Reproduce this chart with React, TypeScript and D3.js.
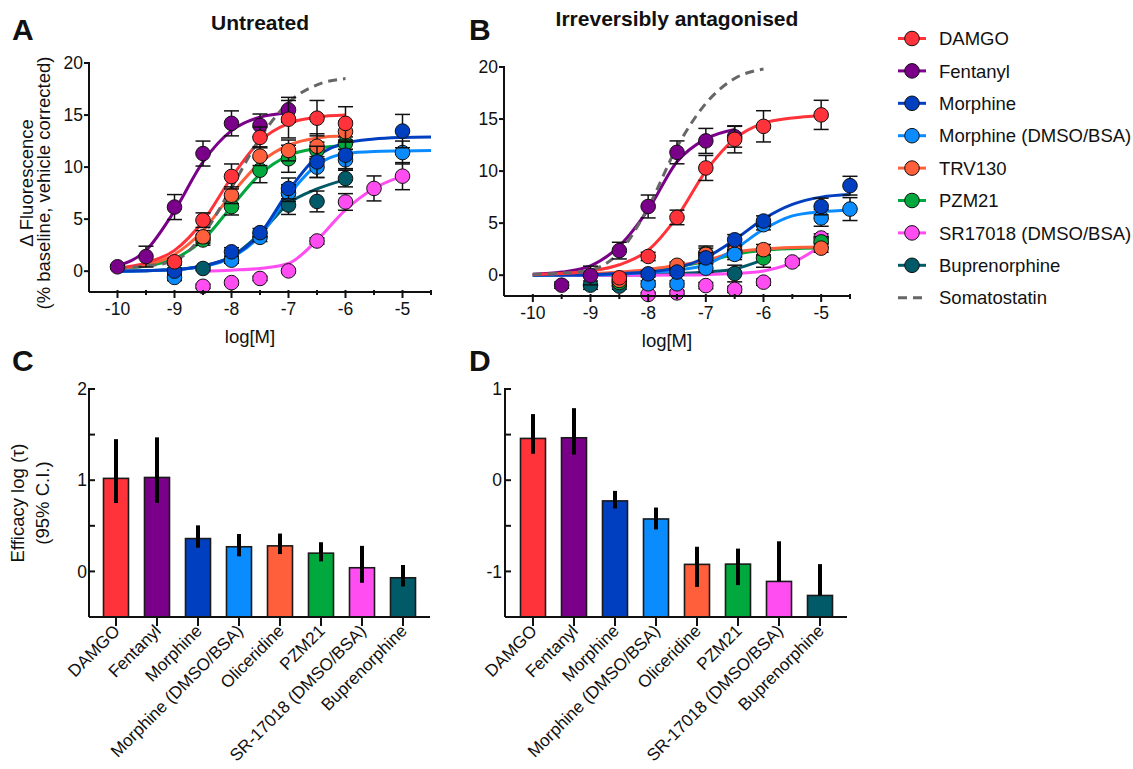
import React from "react"
import * as d3 from "d3"

const agonists = ["DAMGO", "Fentanyl", "Morphine", "Morphine (DMSO/BSA)", "TRV130", "PZM21", "SR17018 (DMSO/BSA)", "Buprenorphine"]
const agonistColors = ["#ff3339", "#7b0089", "#003fbf", "#0a8cff", "#ff5f3a", "#00a83d", "#ff4df2", "#005a68"]
const somatostatinLabel = "Somatostatin"

// fitted curves at half-log steps
const fitDoses = [-10, -9.5, -9, -8.5, -8, -7.5, -7, -6.5, -6, -5.5, -5, -4.5]

// A: untreated
const untreatedDoses = [
  [-9, -8.5, -8, -7.5, -7, -6.5, -6],
  [-10, -9.5, -9, -8.5, -8, -7.5, -7],
  [-9, -8, -7.5, -7, -6.5, -6, -5],
  [-9, -8, -7.5, -7, -6.5, -6, -5],
  [-8.5, -8, -7.5, -7, -6.5, -6],
  [-8.5, -8, -7.5, -7, -6.5, -6],
  [-8.5, -8, -7.5, -7, -6.5, -6, -5.5, -5],
  [-8.5, -7, -6.5, -6],
]
const untreatedResp = [
  [0.9, 4.9, 9.1, 12.85, 14.6, 14.7, 14.2],
  [0.42, 1.4, 6.16, 11.3, 14.2, 14.0, 15.5],
  [0.0, 1.86, 3.7, 7.95, 10.5, 11.15, 13.46],
  [-0.6, 1.06, 3.25, 7.5, 10.0, 10.7, 11.4],
  [3.3, 7.3, 11.05, 11.6, 12.0, 13.4],
  [3.0, 6.2, 9.7, 10.8, 11.6, 12.3],
  [-1.45, -1.1, -0.7, 0.03, 2.9, 6.65, 7.95, 9.13],
  [0.26, 6.35, 6.7, 8.9],
]
const untreatedSem = [
  [0.3, 0.7, 1.2, 1.0, 1.8, 1.7, 1.6],
  [0.2, 1.0, 1.2, 1.2, 1.2, 1.1, 1.2],
  [0.3, 0.4, 0.4, 1.0, 1.5, 1.3, 1.6],
  [0.3, 0.3, 0.4, 0.8, 1.0, 1.0, 1.1],
  [0.6, 0.8, 0.9, 1.0, 1.2, 1.0],
  [0.5, 0.8, 1.2, 1.3, 0.8, 0.6],
  [0.2, 0.2, 0.2, 0.2, 0.3, 0.8, 1.2, 1.3],
  [0.2, 0.9, 1.0, 0.8],
]
const untreatedFits = [
  [0.3, 0.8, 2.0, 4.8, 9.0, 12.5, 14.2, 14.8, 15.0, null, null, null],
  [0.5, 2.0, 5.8, 10.5, 13.5, 14.8, 15.2, null, null, null, null, null],
  [0.0, 0.05, 0.15, 0.5, 1.4, 3.6, 7.7, 11.0, 12.3, 12.7, 12.85, 12.9],
  [0.0, 0.05, 0.15, 0.45, 1.3, 3.4, 7.3, 10.2, 11.3, 11.5, 11.55, 11.6],
  [0.3, 0.6, 1.6, 3.9, 7.4, 10.4, 12.1, 12.8, 13.0, null, null, null],
  [0.3, 0.5, 1.2, 3.0, 6.2, 9.3, 11.1, 11.8, 12.1, null, null, null],
  [null, null, null, 0.0, 0.1, 0.26, 0.74, 2.98, 5.9, 7.95, 9.13, null],
  [0.0, 0.05, 0.15, 0.5, 1.4, 3.6, 6.5, 7.9, 8.8, null, null, null],
]
const untreatedSomatostatin = [0.3, 0.5, 1.0, 3.5, 8.0, 12.8, 16.2, 17.9, 18.5, null, null, null]

// B: irreversibly antagonised
const antagDoses = [
  [-8.5, -8, -7.5, -7, -6.5, -6, -5],
  [-9.5, -9, -8.5, -8, -7.5, -7, -6.5],
  [-8, -7.5, -7, -6.5, -6, -5, -4.5],
  [-8, -7.5, -7, -6.5, -6, -5, -4.5],
  [-8.5, -7.5, -7, -6.5, -6, -5],
  [-8.5, -7.5, -7, -6.5, -6, -5],
  [-8, -7.5, -7, -6.5, -6, -5.5, -5],
  [-9, -8.5, -6.5],
]
const antagResp = [
  [-0.25, 1.8, 5.55, 10.3, 13.05, 14.3, 15.4],
  [-0.96, -0.03, 2.36, 6.6, 11.8, 12.9, 13.3],
  [0.13, 0.3, 1.66, 3.4, 5.2, 6.6, 8.6],
  [-0.83, -0.83, 0.67, 2.0, 4.85, 5.5, 6.35],
  [-0.5, 0.95, 2.0, 2.3, 2.45, 2.6],
  [-0.7, 0.6, 2.1, 2.2, 1.66, 3.2],
  [-1.85, -1.7, -1.0, -1.37, -0.67, 1.27, 3.57],
  [-0.96, -1.05, 0.16],
]
const antagSem = [
  [0.3, 0.4, 0.7, 1.2, 1.3, 1.5, 1.4],
  [0.3, 0.9, 0.8, 1.1, 1.1, 1.2, 1.0],
  [0.3, 0.3, 0.5, 0.5, 0.5, 0.8, 0.9],
  [0.3, 0.3, 0.4, 0.5, 0.5, 0.8, 1.1],
  [0.3, 0.3, 0.6, 0.5, 0.5, 0.4],
  [0.3, 0.3, 0.7, 0.5, 0.9, 0.5],
  [0.2, 0.2, 0.3, 0.3, 0.3, 0.3, 0.4],
  [0.4, 0.3, 0.8],
]
const antagFits = [
  [0.05, 0.15, 0.4, 1.0, 2.4, 5.6, 10.0, 13.1, 14.6, 15.1, 15.35, null],
  [0.1, 0.3, 0.9, 2.8, 6.3, 10.9, 13.1, 14.0, null, null, null, null],
  [0.0, 0.02, 0.05, 0.15, 0.3, 0.7, 1.7, 3.4, 5.4, 6.8, 7.5, 7.75],
  [0.0, 0.01, 0.03, 0.1, 0.25, 0.5, 1.0, 2.5, 4.4, 5.7, 6.1, 6.25],
  [0.05, 0.1, 0.15, 0.3, 0.55, 0.95, 1.4, 2.2, 2.5, 2.65, 2.7, null],
  [0.0, 0.05, 0.1, 0.2, 0.4, 0.8, 1.3, 2.0, 2.4, 2.55, 2.6, null],
  [0.0, 0.0, 0.0, 0.0, 0.0, 0.02, 0.05, 0.15, 0.4, 1.2, 2.8, null],
  [0.0, 0.0, 0.0, 0.02, 0.05, 0.15, 0.3, 0.6, 1.5, null, null, null],
]
const antagSomatostatin = [0.1, 0.2, 0.5, 2.2, 6.5, 12.3, 16.5, 18.9, 19.8, null, null, null]

const logTicks = [-10, -9, -8, -7, -6, -5]
const logMinorTicks = [-9.5, -8.5, -7.5, -6.5, -5.5, -4.5]
const responseTicks = [0, 5, 10, 15, 20]

// C and D: efficacy log(tau) with 95% CI
const barLabels = ["DAMGO", "Fentanyl", "Morphine", "Morphine (DMSO/BSA)", "Oliceridine", "PZM21", "SR-17018 (DMSO/BSA)", "Buprenorphine"]
const tauUntreated = [1.02, 1.03, 0.36, 0.27, 0.28, 0.2, 0.04, -0.07]
const tauUntreatedLow = [0.75, 0.75, 0.26, 0.165, 0.19, 0.11, -0.125, -0.165]
const tauUntreatedHigh = [1.45, 1.47, 0.505, 0.41, 0.415, 0.32, 0.28, 0.07]
const tauAntag = [0.458, 0.465, -0.227, -0.425, -0.923, -0.92, -1.11, -1.264]
const tauAntagLow = [0.29, 0.28, -0.31, -0.54, -1.17, -1.15, -1.11, -1.264]
const tauAntagHigh = [0.725, 0.79, -0.117, -0.3, -0.73, -0.75, -0.67, -0.92]
const tauTicksC = [0, 1, 2]
const tauMinorC = [0.5, 1.5]
const tauTicksD = [-1, 0, 1]
const tauMinorD = [-0.5, 0.5]

const FONT = "'Liberation Sans', Arial, Helvetica, sans-serif"
const INK = "#111"

type Box = { left: number; right: number; top: number; bottom: number }

function CurvePanel({ box, doses, resp, sem, fits, soma }: {
  box: Box; doses: number[][]; resp: number[][]; sem: number[][]; fits: (number | null)[][]; soma: (number | null)[]
}) {
  const x = d3.scaleLinear().domain([-10.5, -4.5]).range([box.left, box.right])
  const y = d3.scaleLinear().domain([-2, 20]).range([box.bottom, box.top])
  const line = d3.line<[number, number | null]>()
    .defined(d => d[1] != null)
    .x(d => x(d[0]))
    .y(d => y(d[1] as number))
    .curve(d3.curveMonotoneX)
  const order = d3.range(agonists.length).reverse()

  return (
    <g>
      {order.map(i => (
        <path key={"f" + i} d={line(fitDoses.map((d, j) => [d, fits[i][j]] as [number, number | null])) || ""}
          fill="none" stroke={agonistColors[i]} strokeWidth={3} />
      ))}
      <path d={line(fitDoses.map((d, j) => [d, soma[j]] as [number, number | null])) || ""}
        fill="none" stroke="#666" strokeWidth={3} strokeDasharray="9 6" />
      {order.map(i => (
        <g key={"p" + i}>
          {doses[i].map((d, j) => {
            const cx = x(d), v = resp[i][j], e = sem[i][j]
            return (
              <g key={j} stroke={INK} strokeWidth={1.5}>
                <line x1={cx} x2={cx} y1={y(v - e)} y2={y(v + e)} />
                <line x1={cx - 7.5} x2={cx + 7.5} y1={y(v - e)} y2={y(v - e)} />
                <line x1={cx - 7.5} x2={cx + 7.5} y1={y(v + e)} y2={y(v + e)} />
              </g>
            )
          })}
          {doses[i].map((d, j) => (
            <circle key={"c" + j} cx={x(d)} cy={y(resp[i][j])} r={7.3}
              fill={agonistColors[i]} stroke={INK} strokeWidth={1} />
          ))}
        </g>
      ))}
      {/* axes */}
      <g stroke={INK} strokeWidth={2} fill="none">
        <line x1={box.left} x2={box.left} y1={box.top - 1} y2={box.bottom} />
        <line x1={box.left} x2={box.right} y1={box.bottom} y2={box.bottom} />
        {responseTicks.map(t => <line key={t} x1={box.left - 5} x2={box.left} y1={y(t)} y2={y(t)} />)}
        {logTicks.map(t => <line key={t} x1={x(t)} x2={x(t)} y1={box.bottom - 2} y2={box.bottom + 6} />)}
        {logMinorTicks.map(t => <line key={t} x1={x(t)} x2={x(t)} y1={box.bottom - 2} y2={box.bottom + 3} />)}
      </g>
      <g fontFamily={FONT} fontSize={17.5} fill={INK}>
        {responseTicks.map(t => (
          <text key={t} x={box.left - 6} y={y(t)} dy="0.35em" textAnchor="end">{t}</text>
        ))}
        {logTicks.map(t => (
          <text key={t} x={x(t)} y={box.bottom + 23} textAnchor="middle">{t}</text>
        ))}
        <text x={(x(-10) + x(-5)) / 2 - 10} y={box.bottom + 51} textAnchor="middle" fontSize={18.5}>log[M]</text>
      </g>
    </g>
  )
}

function BarPanel({ box, domain, ticks, minor, values, low, high, first, last, labelGap }: {
  box: Box; domain: [number, number]; ticks: number[]; minor: number[]
  values: number[]; low: number[]; high: number[]; first: number; last: number; labelGap: number
}) {
  const y = d3.scaleLinear().domain(domain).range([box.bottom, box.top])
  const x = d3.scalePoint<string>().domain(barLabels).range([first, last])
  const bw = 25
  return (
    <g>
      {barLabels.map((l, i) => {
        const cx = x(l) as number
        return (
          <g key={l}>
            <rect x={cx - bw / 2} y={y(values[i])} width={bw} height={box.bottom - y(values[i])}
              fill={agonistColors[i]} stroke="#1a1a1a" strokeWidth={1.6} />
            <line x1={cx} x2={cx} y1={y(low[i])} y2={y(high[i])} stroke="#000" strokeWidth={4} />
          </g>
        )
      })}
      <g stroke={INK} strokeWidth={2} fill="none">
        <line x1={box.left} x2={box.left} y1={box.top - 1} y2={box.bottom} />
        <line x1={box.left} x2={box.right} y1={box.bottom} y2={box.bottom} />
        {ticks.concat(minor).map(t => <line key={t} x1={box.left} x2={box.left + 6} y1={y(t)} y2={y(t)} />)}
        {barLabels.map(l => <line key={l} x1={x(l) as number} x2={x(l) as number} y1={box.bottom} y2={box.bottom + 9} />)}
      </g>
      <g fontFamily={FONT} fontSize={17.5} fill={INK}>
        {ticks.map(t => (
          <text key={t} x={box.left - labelGap} y={y(t)} dy="0.35em" textAnchor="end">{t}</text>
        ))}
        {barLabels.map(l => {
          const ax = (x(l) as number) + 5, ay = box.bottom + 15
          return (
            <text key={l} x={ax} y={ay} textAnchor="end" fontSize={17.2}
              transform={`rotate(-45 ${ax} ${ay})`}>{l}</text>
          )
        })}
      </g>
    </g>
  )
}

function Legend() {
  const rows = agonists.concat([somatostatinLabel])
  return (
    <g fontFamily={FONT} fontSize={18.5} fill={INK}>
      {rows.map((name, i) => {
        const cy = 38.5 + i * 32.4
        const isSoma = i === agonists.length
        return (
          <g key={name}>
            <line x1={898} x2={926} y1={cy} y2={cy} stroke={isSoma ? "#666" : agonistColors[i]}
              strokeWidth={3} strokeDasharray={isSoma ? "9 6" : undefined} />
            {!isSoma && <circle cx={912} cy={cy} r={7.3} fill={agonistColors[i]} stroke={INK} strokeWidth={1} />}
            <text x={939} y={cy} dy="0.36em">{name}</text>
          </g>
        )
      })}
    </g>
  )
}

export default function App() {
  const W = 1133, H = 769
  return (
    <svg width={W} height={H} style={{ position: "absolute", left: 0, top: 0, background: "#fff" }}>
      <rect width={W} height={H} fill="#fff" />
      <g fontFamily={FONT} fill={INK} fontWeight="bold">
        <text x={12} y={40} fontSize={30}>A</text>
        <text x={469} y={40} fontSize={30}>B</text>
        <text x={12} y={371} fontSize={30}>C</text>
        <text x={469} y={371} fontSize={30}>D</text>
        <text x={260} y={30} fontSize={21} textAnchor="middle">Untreated</text>
        <text x={677} y={26} fontSize={21} textAnchor="middle">Irreversibly antagonised</text>
      </g>
      <g fontFamily={FONT} fill={INK} fontSize={18.5}>
        <text transform="translate(33 183) rotate(-90)" textAnchor="middle">Δ Fluorescence</text>
        <text transform="translate(50 183) rotate(-90)" textAnchor="middle">(% baseline, vehicle corrected)</text>
        <text transform="translate(24 503) rotate(-90)" textAnchor="middle">Efficacy log (τ)</text>
        <text transform="translate(49 503) rotate(-90)" textAnchor="middle">(95% C.I.)</text>
      </g>
      <CurvePanel box={{ left: 89, right: 431, top: 63, bottom: 292 }}
        doses={untreatedDoses} resp={untreatedResp} sem={untreatedSem}
        fits={untreatedFits} soma={untreatedSomatostatin} />
      <CurvePanel box={{ left: 504, right: 850, top: 67, bottom: 296 }}
        doses={antagDoses} resp={antagResp} sem={antagSem}
        fits={antagFits} soma={antagSomatostatin} />
      <Legend />
      <BarPanel box={{ left: 89, right: 430, top: 389, bottom: 617 }} domain={[-0.5, 2]}
        ticks={tauTicksC} minor={tauMinorC} values={tauUntreated} low={tauUntreatedLow} high={tauUntreatedHigh}
        first={116} last={403} labelGap={2} />
      <BarPanel box={{ left: 505, right: 847, top: 389, bottom: 617 }} domain={[-1.5, 1]}
        ticks={tauTicksD} minor={tauMinorD} values={tauAntag} low={tauAntagLow} high={tauAntagHigh}
        first={533} last={820} labelGap={3} />
    </svg>
  )
}
